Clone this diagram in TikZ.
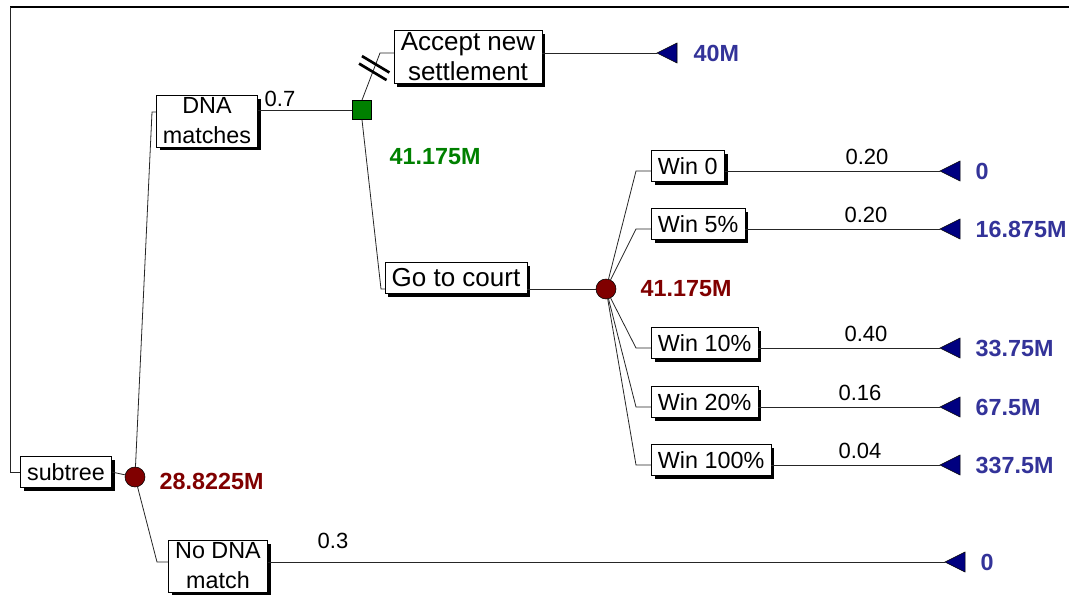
\documentclass[tikz,border=0pt]{standalone}
\usepackage{fontspec}
\setmainfont{Liberation Sans}
\usetikzlibrary{calc,shadows}

\definecolor{chancered}{RGB}{128,0,0}
\definecolor{decgreen}{RGB}{0,128,0}
\definecolor{leafnavy}{RGB}{0,0,128}
\definecolor{leafblue}{RGB}{51,51,153}

\tikzset{
  box/.style={draw, fill=white, inner xsep=5pt, inner ysep=2pt, minimum height=23.5pt,
    align=center, font=\fontsize{17.5}{22.5}\selectfont,
    drop shadow={shadow xshift=2.5pt, shadow yshift=-2.5pt, fill=black, opacity=1}},
  bigbox/.style={box, font=\fontsize{19.5}{22.5}\selectfont},
  chance/.style={circle, draw, fill=chancered, minimum size=15pt, inner sep=0pt},
  decision/.style={rectangle, draw, fill=decgreen, minimum size=14.5pt, inner sep=0pt},
  branch/.style={draw=black!85, line width=0.6pt},
  prob/.style={font=\fontsize{16.5}{18}\selectfont},
  value/.style={font=\bfseries\fontsize{17.5}{20}\selectfont, anchor=west},
  leaf/.style={fill=leafnavy, draw=black, line width=0.4pt},
  cutmark/.style={line width=2pt},
}

\newcommand{\leafmark}[1]{\filldraw[leaf] (#1) -- ++(20,-10) -- ++(0,20) -- cycle;}

\begin{document}
\begin{tikzpicture}[x=0.75pt,y=-0.75pt]
\useasboundingbox (0,0) rectangle (1069,596);

% frame and root
\coordinate (frameleft) at (10,7);
\coordinate (frameright) at (1069,7);
\coordinate (rootknee) at (10,472);
\draw[line width=1.5pt] (frameleft) -- (frameright);

\node[box] (subtree) at (66,472) {subtree};
\node[chance] (c1) at (135,477) {};
\node[value, text=chancered] (v1) at (155,481) {28.8225M};
\draw[branch] (frameleft) -- (rootknee) -- (subtree.west);
\draw[branch] (subtree.east) -- (c1);

% DNA matches
\node[box] (dna) at (207,121) {DNA\\matches};
\node[prob] (p1) at (280,99) {0.7};
\node[decision] (d1) at (362,110) {};
\node[value, text=decgreen] (v2) at (385,157) {41.175M};
\coordinate (k1) at (152,112);
\draw[branch] (c1) -- (k1) -- (dna.west |- k1);
\draw[branch] (dna.east |- d1) -- (d1.west);

% accept
\node[bigbox] (accept) at (468,57) {Accept new\\settlement};
\coordinate (k2) at (380,53);
\coordinate (t0) at (657,53);
\node[value, text=leafblue] (v3) at (689,53) {40M};
\draw[branch] (d1.north) -- (k2) -- (accept.west |- k2);
\draw[branch] (accept.east |- k2) -- (t0);
\leafmark{t0}
\path (d1.north) -- (k2) coordinate[pos=0.6] (cutA) coordinate[pos=0.76] (cutB);
\draw[cutmark] ($(cutA)!12pt!80:(k2)$) -- ($(cutA)!12pt!-100:(k2)$);
\draw[cutmark] ($(cutB)!12pt!80:(k2)$) -- ($(cutB)!12pt!-100:(k2)$);

% go to court
\node[bigbox] (court) at (456,278) {Go to court};
\node[chance] (c2) at (606,289) {};
\node[value, text=chancered] (v4) at (636,289) {41.175M};
\coordinate (k3) at (381,289);
\draw[branch] (d1.south) -- (k3) -- (court.west |- k3);
\draw[branch] (court.east |- c2) -- (c2);

\foreach \i/\txt/\y/\pr/\px/\val in {1/Win 0/171/0.20/867/0,
    2/Win 5\%/229/0.20/866/16.875M, 3/Win 10\%/348/0.40/866/33.75M,
    4/Win 20\%/407/0.16/860/67.5M, 5/Win 100\%/465/0.04/860/337.5M}{
  \node[box, anchor=west] (w\i) at (651,\y-5) {\txt};
  \coordinate (kw\i) at (636,\y);
  \coordinate (t\i) at (940,\y);
  \node[prob] (pw\i) at (\px,\y-14) {\pr};
  \node[value, text=leafblue] (vw\i) at (971,\y) {\val};
  \draw[branch] (c2) -- (kw\i) -- (w\i.west |- kw\i);
  \draw[branch] (w\i.east |- t\i) -- (t\i);
  \leafmark{t\i}
}

% no DNA match
\node[box] (nodna) at (218,566) {No DNA\\match};
\node[prob] (p2) at (333,541) {0.3};
\coordinate (k4) at (157,562);
\coordinate (t6) at (945,562);
\node[value, text=leafblue] (v5) at (976,562) {0};
\draw[branch] (c1) -- (k4) -- (nodna.west |- k4);
\draw[branch] (nodna.east |- k4) -- (t6);
\leafmark{t6}

\end{tikzpicture}
\end{document}
